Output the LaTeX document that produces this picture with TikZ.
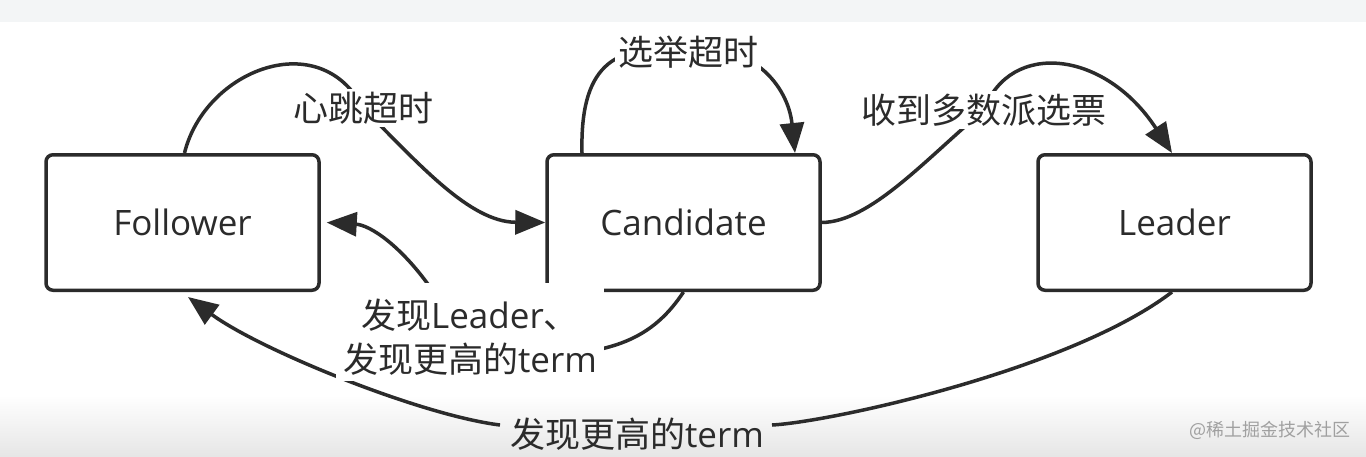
\documentclass[tikz,border=0pt]{standalone}
\usepackage{fontspec}
\setmainfont{Open Sans}
\newfontfamily\cjk{Noto Sans CJK SC}
\newcommand\lat[1]{{\rmfamily #1}}
\usetikzlibrary{arrows.meta}
\definecolor{ink}{HTML}{2B2B2B}
\definecolor{topband}{HTML}{F3F5F6}
\definecolor{botband}{HTML}{E6E6E6}
\definecolor{wm}{HTML}{A0A0A0}
\pgfdeclarelayer{back}
\pgfdeclarelayer{lines}
\pgfsetlayers{back,lines,main}
\begin{document}
\begin{tikzpicture}[x=1pt,y=-1pt,
  state/.style={draw=ink, line width=3.5pt, rounded corners=7pt, minimum width=273pt, minimum height=135.5pt, inner sep=0pt, text=ink, font=\fontsize{35}{42}\selectfont},
  lbl/.style={text=ink, font=\fontsize{35}{44}\selectfont\cjk, inner sep=3pt},
  conn/.style={draw=ink, line width=3.5pt, -{Triangle[length=30pt,width=24pt]}},
  plain/.style={draw=ink, line width=3.5pt}
]
\useasboundingbox (0,0) rectangle (1366,456);
\begin{pgfonlayer}{back}
  \fill[white] (0,0) rectangle (1366,456);
  \fill[topband] (0,0) rectangle (1366,22);
  \shade[top color=white,bottom color=botband] (0,395) rectangle (1366,456);
\end{pgfonlayer}

\node[state] (F) at (182.5,222.5) {Follower};
\node[state] (C) at (683.5,222.5) {Candidate};
\node[state] (L) at (1174.5,222.5) {Leader};

\node[lbl,fill=white] (hb) at (363,108) {心跳超时};
\node[lbl,fill=white] (el) at (688,52) {选举超时};
\node[lbl,fill=white] (mv) at (984,110) {收到多数派选票};
\node[lbl,fill=white,align=center,inner xsep=7pt,inner ysep=6pt] (dl) at (470,332) {\rule{0pt}{39pt}发现\lat{Leader}、\\发现更高的\lat{term}};
\node[lbl] (bt) at (637,434) {发现更高的\lat{term}};
\node[font=\fontsize{18}{20}\selectfont\cjk, text=wm, inner sep=0pt] (wmk) at (1270,430) {@稀土掘金技术社区};

\coordinate (b1) at (772,425);
\coordinate (b2) at (500,425);
\coordinate (d1) at (560,355);
\coordinate (d2) at (430,287);

\begin{pgfonlayer}{lines}
  \draw[conn] ([xshift=2pt]F.north) .. controls (205,70) and (320,25) .. (hb.center)
    .. controls (420,165) and (470,222) .. (C.west);
  \draw[conn] ([xshift=-101.5pt]C.north) .. controls (580,70) and (610,40) .. (el.center)
    .. controls (750,40) and (788,85) .. ([xshift=111.5pt]C.north);
  \draw[conn] (C.east) .. controls (870,222) and (925,160) .. (mv.center)
    .. controls (1010,40) and (1105,50) .. ([xshift=-2.5pt]L.north);
  \draw[conn] (C.south) .. controls (655,335) and (620,350) .. (d1)
    .. controls (480,360) and (450,320) .. (d2)
    .. controls (400,245) and (370,225) .. ([xshift=6pt]F.east);
  \draw[plain] ([xshift=-2.5pt]L.south) .. controls (1070,370) and (830,422) .. (b1);
  \draw[conn] (b2) .. controls (420,415) and (260,350) .. ([xshift=5.5pt,yshift=-5pt]F.south);
\end{pgfonlayer}
\end{tikzpicture}
\end{document}
